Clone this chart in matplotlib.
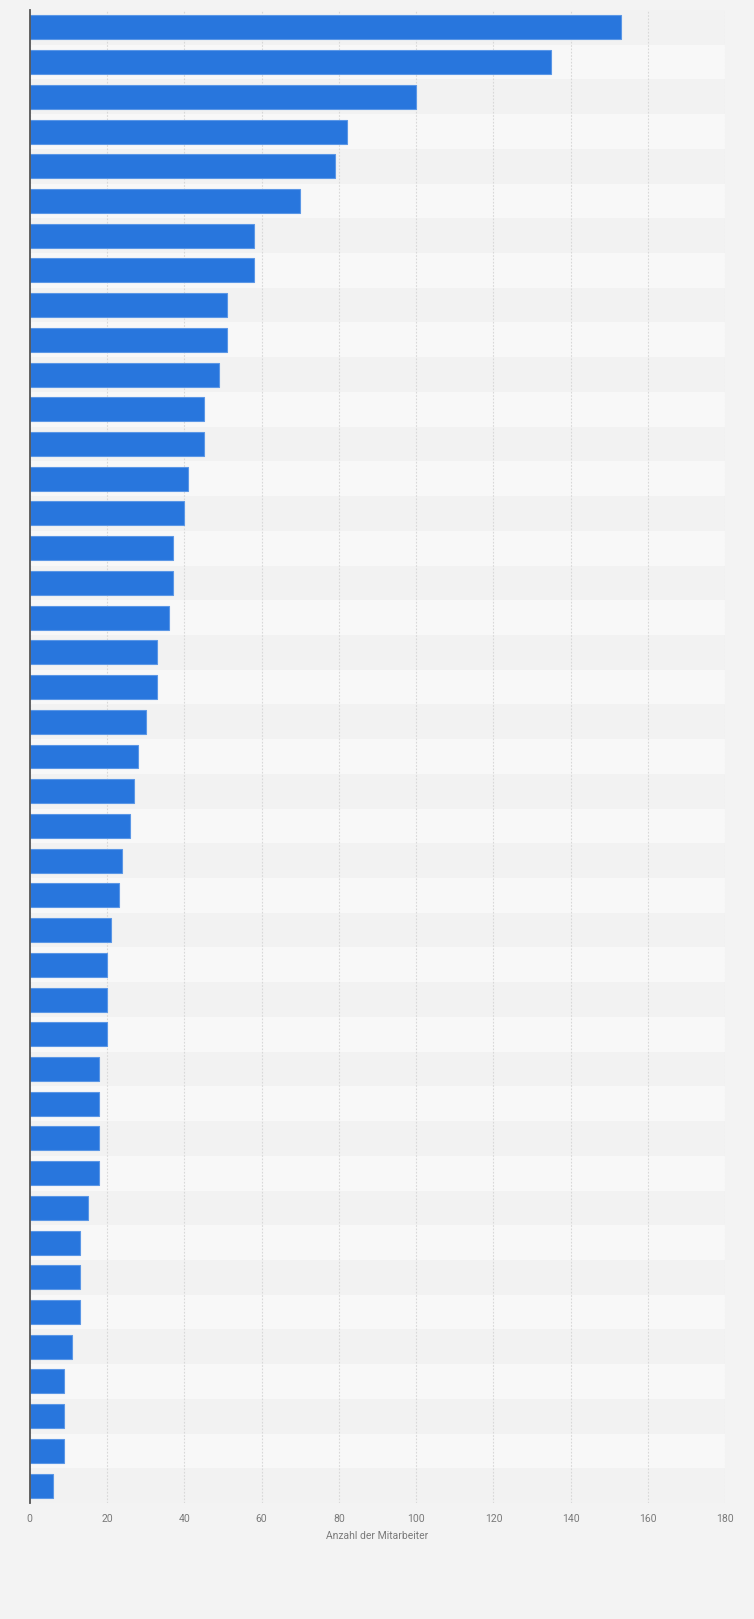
import matplotlib
matplotlib.use("Agg")
import matplotlib.pyplot as plt

# Anzahl der Mitarbeiter, von oben nach unten
values = [153, 135, 100, 82, 79, 70, 58, 58, 51, 51, 49, 45, 45, 41, 40,
          37, 37, 36, 33, 33, 30, 28, 27, 26, 24, 23, 21, 20, 20, 20,
          18, 18, 18, 18, 15, 13, 13, 13, 11, 9, 9, 9, 6]
x_ticks = [0, 20, 40, 60, 80, 100, 120, 140, 160, 180]
x_label = "Anzahl der Mitarbeiter"

plt.rcParams['font.family'] = ['Roboto', 'DejaVu Sans']

fig = plt.figure(figsize=(7.54, 16.19), dpi=100)
fig.patch.set_facecolor('#f3f3f3')
ax = fig.add_axes([29.7 / 754, 1 - 1503 / 1619, (725.3 - 29.7) / 754, (1503 - 10) / 1619])
ax.set_facecolor('#f3f3f3')

n = len(values)
ypos = list(range(n))

# alternating row bands
for i in ypos:
    ax.axhspan(i - 0.5, i + 0.5, color='#f2f2f2' if i % 2 == 0 else '#f8f8f8', zorder=0, lw=0)

ax.barh(ypos, values, height=0.69, color='#2876dd', edgecolor='#5b97e6', linewidth=0.8, zorder=3)

ax.set_xlim(0, 180)
ax.set_ylim(n - 0.5, -0.5)
ax.set_xticks(x_ticks)
ax.set_xticklabels([str(t) for t in x_ticks], fontsize=7.5, color='#7a7a7a')
ax.set_yticks([])
ax.tick_params(axis='x', length=0, pad=8)
ax.grid(axis='x', color='#d8d8d8', linestyle=(0, (1.5, 1.5)), linewidth=0.8, zorder=1)

for side in ['top', 'right', 'bottom']:
    ax.spines[side].set_visible(False)
ax.spines['left'].set_color('#555555')
ax.spines['left'].set_linewidth(1.3)
ax.spines['left'].set_zorder(5)

ax.set_xlabel(x_label, fontsize=7.5, color='#7a7a7a', labelpad=5)

fig.savefig('out.png', dpi=100, facecolor=fig.get_facecolor())
